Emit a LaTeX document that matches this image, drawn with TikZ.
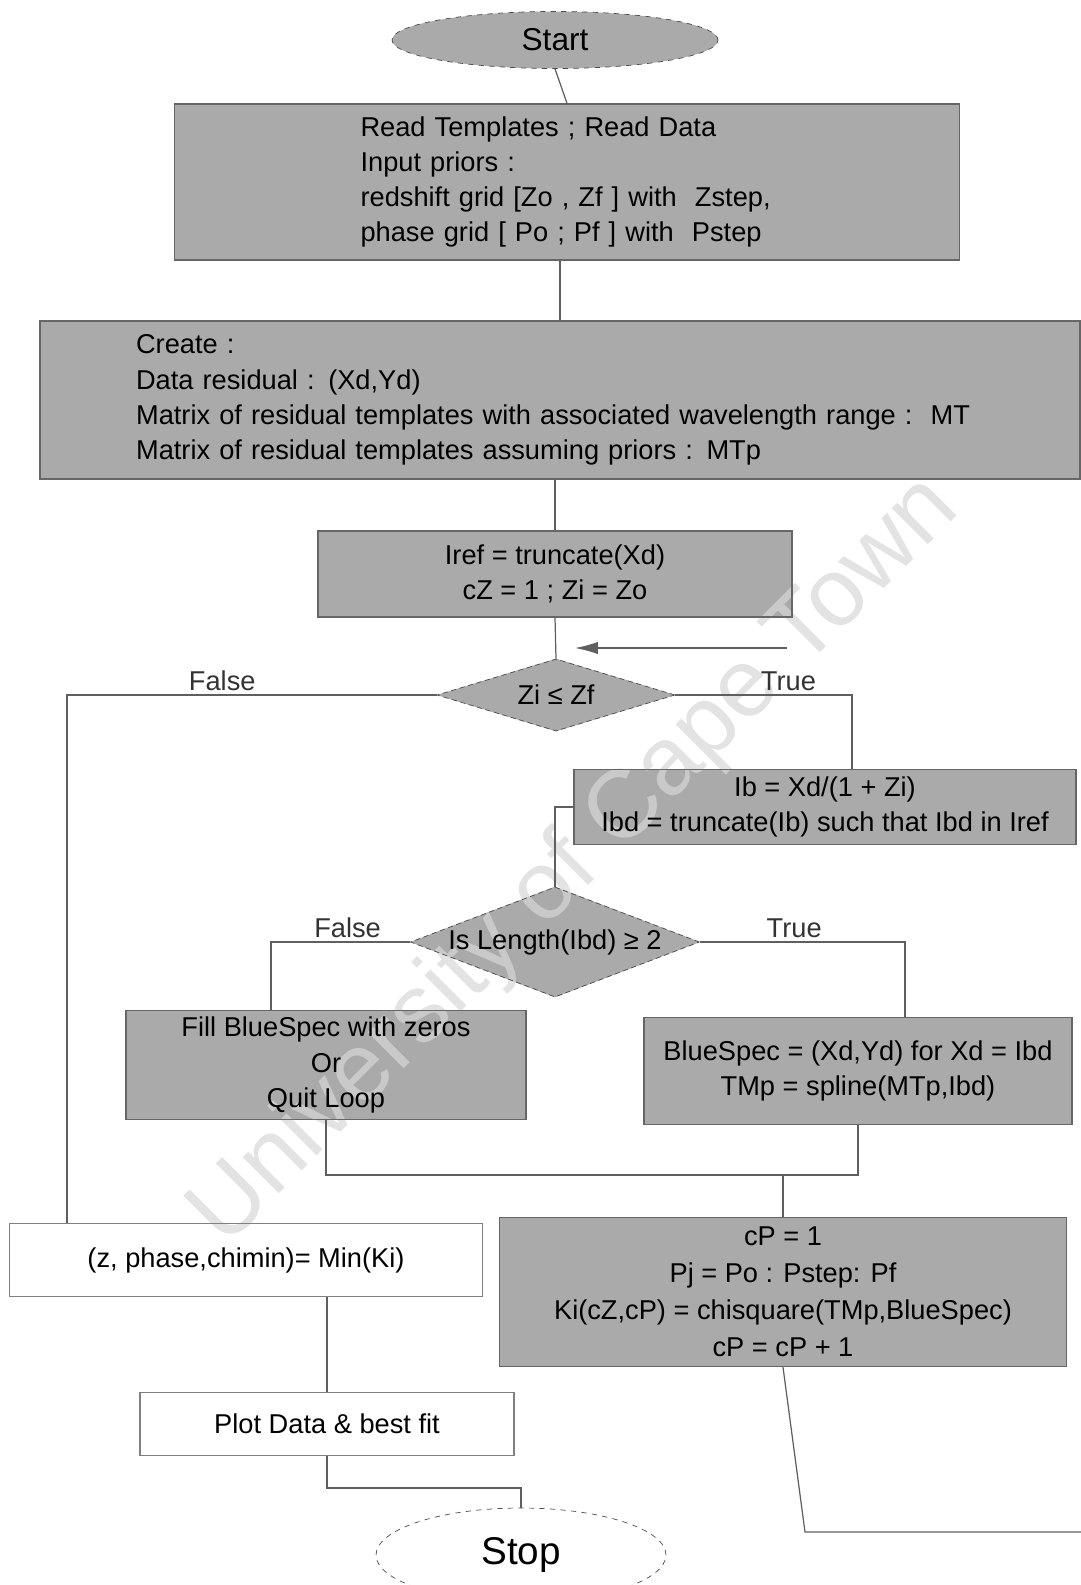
\documentclass[tikz,border=0pt]{standalone}
\usepackage{fontspec}
\setmainfont{Liberation Sans}
\usepackage{tikz}
\usetikzlibrary{arrows.meta, shapes.geometric, positioning}

\definecolor{boxgray}{RGB}{170,170,170}
\definecolor{linegray}{RGB}{95,95,95}
\definecolor{wmgray}{RGB}{215,215,215}

\pgfdeclarelayer{background}
\pgfdeclarelayer{wm}
\pgfsetlayers{background,wm,main}

\tikzset{
  every node/.style={font=\fontsize{15.5}{20}\selectfont},
  procbox/.style={draw=black!60, line width=0.8pt, align=center, inner sep=0pt},
  plainbox/.style={draw=gray, line width=0.7pt, align=center, inner sep=0pt},
  decision/.style={diamond, draw=black!70, densely dashed, inner sep=0pt},
  terminal/.style={ellipse, draw=black!70, dashed, inner sep=0pt},
  flow/.style={draw=linegray, line width=0.7pt},
  lbl/.style={above, text=black!80, inner sep=2pt}
}

\begin{document}
\begin{tikzpicture}[x=0.02cm, y=-0.02cm]
\useasboundingbox (0,0) rectangle (1081,1585);
\clip (0,0) rectangle (1081,1585);

\node[terminal, minimum width=6.52cm, minimum height=1.14cm, font=\fontsize{18}{20}\selectfont] (start) at (555,40) {Start};
\node[procbox, align=left, text width=8.26cm, inner xsep=3.72cm, minimum height=3.12cm] (read) at (567,182) {Read Templates ; Read Data\\ Input priors :\\ redshift grid [Zo , Zf ] with\ \ Zstep,\\ phase grid [ Po ; Pf ] with\ \ Pstep};
\node[procbox, align=left, text width=16.96cm, inner xsep=1.92cm, minimum height=3.16cm] (create) at (560,400) {Create :\\ Data residual : (Xd,Yd)\\ Matrix of residual templates with associated wavelength range :\ \ MT\\ Matrix of residual templates assuming priors : MTp};
\node[procbox, minimum width=9.48cm, minimum height=1.72cm] (iref) at (555,574) {Iref = truncate(Xd)\\ cZ = 1 ; Zi = Zo};
\node[decision, minimum width=4.76cm, minimum height=1.44cm, label=center:{Zi ≤ Zf}] (dia1) at (556,695) {};
\node[procbox, minimum width=10.04cm, minimum height=1.5cm] (ib) at (825,807) {Ib = Xd/(1 + Zi)\\ Ibd = truncate(Ib) such that Ibd in Iref};
\node[decision, minimum width=5.78cm, minimum height=2.2cm, label=center:{Is Length(Ibd) ≥ 2}] (dia2) at (555,942) {};
\node[procbox, minimum width=8cm, minimum height=2.18cm] (fill) at (326,1065) {Fill BlueSpec with zeros\\ Or\\ Quit Loop};
\node[procbox, minimum width=8.56cm, minimum height=2.14cm] (blue) at (858,1071) {BlueSpec = (Xd,Yd) for Xd = Ibd\\ TMp = spline(MTp,Ibd)};
\node[procbox, minimum width=11.34cm, minimum height=2.98cm, font=\fontsize{15.5}{21}\selectfont] (cp) at (783,1292) {cP = 1\\ Pj = Po : Pstep: Pf\\ Ki(cZ,cP) = chisquare(TMp,BlueSpec)\\ cP = cP + 1};
\node[plainbox, minimum width=9.46cm, minimum height=1.46cm] (minki) at (246,1260) {(z, phase,chimin)= Min(Ki)};
\node[plainbox, minimum width=7.48cm, minimum height=1.26cm] (plot) at (327,1424) {Plot Data \& best fit};
\node[terminal, minimum width=5.8cm, minimum height=1.88cm, font=\fontsize{22}{24}\selectfont] (stop) at (521,1555) {Stop};

% grey fills under the watermark
\begin{pgfonlayer}{background}
  \foreach \n in {read,create,iref,ib,fill,blue,cp}
    \fill[boxgray] (\n.south west) rectangle (\n.north east);
  \foreach \n in {dia1,dia2}
    \fill[boxgray] (\n.north) -- (\n.east) -- (\n.south) -- (\n.west) -- cycle;
  \fill[boxgray] (start.center) ellipse [x radius=163, y radius=28.5];
\end{pgfonlayer}

% bends of the connectors
\coordinate (f1) at (67,695);
\coordinate (t1) at (852,695);
\coordinate (f2) at (271,942);
\coordinate (t2) at (905,942);
\coordinate (join) at (783,1175);
\coordinate (s1) at (521,1488);
\coordinate (l1) at (805,1532);
\coordinate (l2) at (1081,1532);
\coordinate (r1) at (787,648);
\coordinate (r2) at (575,648);

\draw[flow] (start.south) -- (read.north);
\draw[flow] (create.north |- read.south) -- (create.north);
\draw[flow] (iref.north |- create.south) -- (iref.north);
\draw[flow] (iref.south) -- (dia1.north);
\draw[flow] (dia1.west) -- node[lbl, pos=0.58] {False} (f1) -- (f1 |- minki.north);
\draw[flow] (dia1.east) -- node[lbl, pos=0.64] {True} (t1) -- (t1 |- ib.north);
\draw[flow] (ib.west) -| (dia2.north);
\draw[flow] (dia2.west) -- node[lbl, pos=0.45] {False} (f2) -- (f2 |- fill.north);
\draw[flow] (dia2.east) -- node[lbl, pos=0.46] {True} (t2) -- (t2 |- blue.north);
\draw[flow] (fill.south) |- (join);
\draw[flow] (blue.south) |- (join);
\draw[flow] (join) -- (cp.north);
\draw[flow] (plot.north |- minki.south) -- (plot.north);
\draw[flow] (plot.south) |- (s1) -- (stop.north);
\draw[flow] (cp.south) -- (l1) -- (l2);
\draw[flow, -{Latex[length=13pt, width=7pt]}] (r1) -- (r2);

\begin{pgfonlayer}{wm}
  \node[rotate=45, text=wmgray, opacity=0.7, font=\fontsize{55}{60}\selectfont] (wmark) at (576,862) {University of Cape Town};
\end{pgfonlayer}
\end{tikzpicture}
\end{document}
